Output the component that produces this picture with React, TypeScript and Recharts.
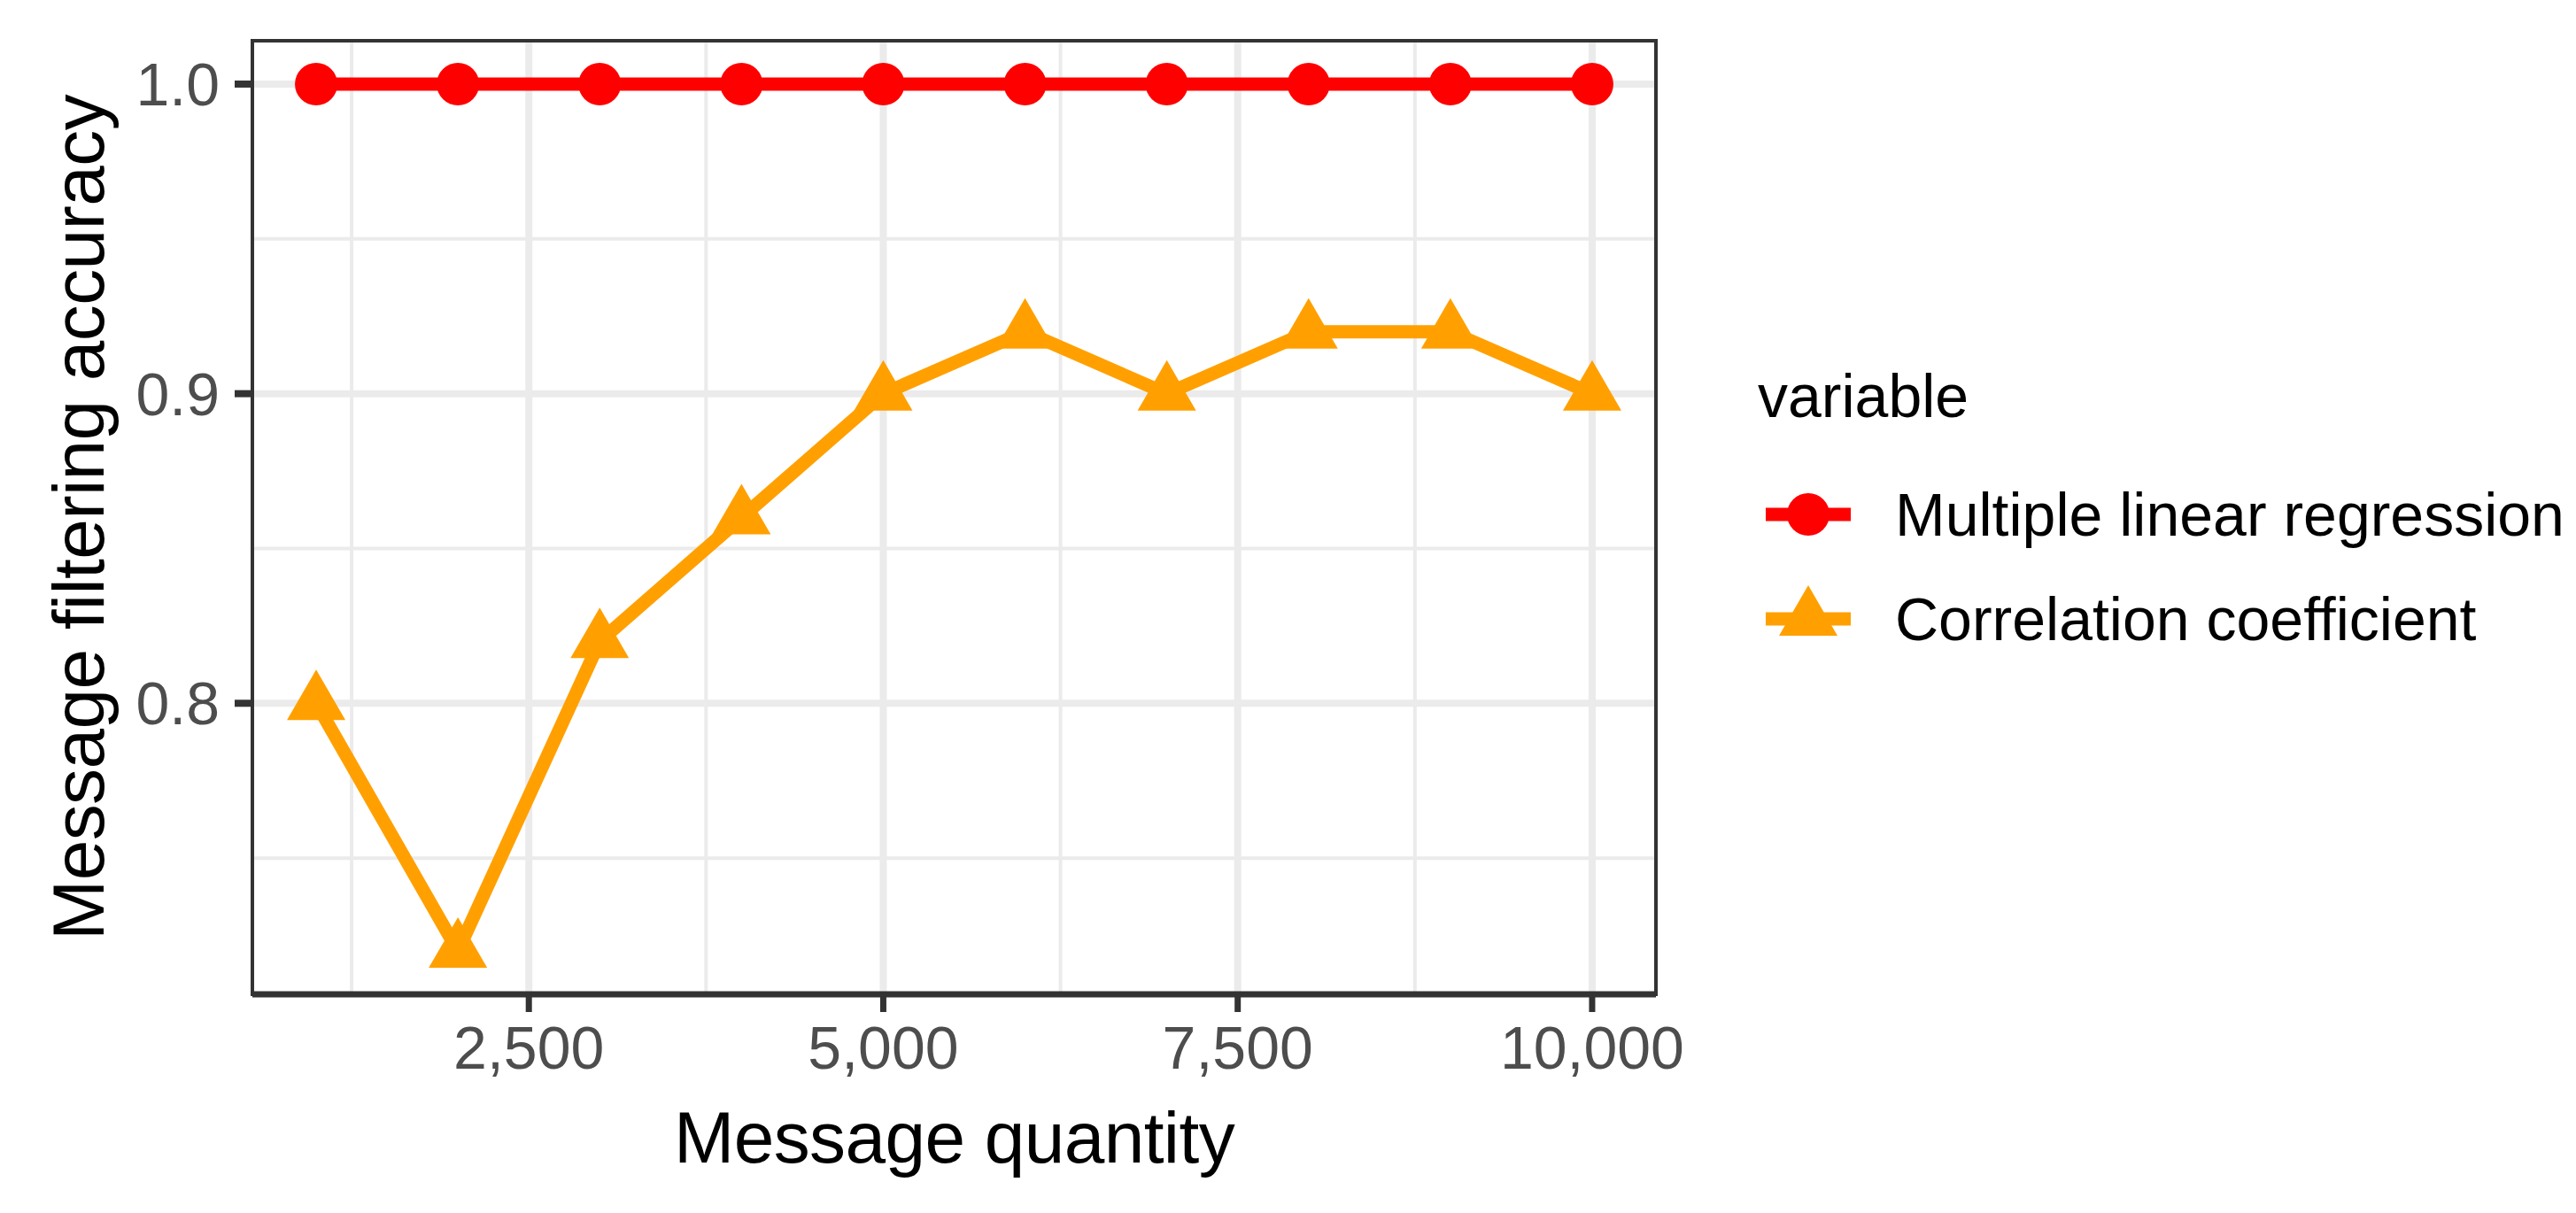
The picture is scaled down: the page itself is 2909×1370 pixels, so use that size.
import React from 'react';
import {
  LineChart,
  Line,
  XAxis,
  YAxis,
  CartesianGrid,
  ReferenceArea,
  Legend,
} from 'recharts';

// message quantity on the x axis
const quantities = [1000, 2000, 3000, 4000, 5000, 6000, 7000, 8000, 9000, 10000];
// filtering accuracy per method
const regressionAcc = [1.0, 1.0, 1.0, 1.0, 1.0, 1.0, 1.0, 1.0, 1.0, 1.0];
const correlationAcc = [0.8, 0.72, 0.82, 0.86, 0.9, 0.92, 0.9, 0.92, 0.92, 0.9];

const seriesNames = ['Multiple linear regression', 'Correlation coefficient'];
const seriesColors = ['#FF0000', '#FFA000'];

const xTicks = [2500, 5000, 7500, 10000];
const xMinor = [1250, 3750, 6250, 8750];
const yTicks = [0.8, 0.9, 1.0];
const yMinor = [0.75, 0.85, 0.95];

const xDomain = [550, 10450];
const yDomain = [0.706, 1.014];

const data = quantities.map((q, i) => ({
  q,
  mlr: regressionAcc[i],
  cc: correlationAcc[i],
}));

const FONT = '"Liberation Sans", Arial, Helvetica, sans-serif';
const W = 2909;
const H = 1370;

const CircleDot = (props: any) => {
  const { cx, cy, index } = props;
  if (cx == null || cy == null) return <g key={index} />;
  return <circle key={index} cx={cx} cy={cy} r={24} fill={seriesColors[0]} />;
};

const triPath = (cx: number, cy: number) =>
  `M${cx},${cy - 38} L${cx + 33},${cy + 19} L${cx - 33},${cy + 19} Z`;

const TriangleDot = (props: any) => {
  const { cx, cy, index } = props;
  if (cx == null || cy == null) return <g key={index} />;
  return <path key={index} d={triPath(cx, cy)} fill={seriesColors[1]} />;
};

const LegendBox = () => (
  <svg width={940} height={360} style={{ fontFamily: FONT, overflow: 'visible' }}>
    <text x={25} y={71} fontSize={68} fill="#000">
      variable
    </text>
    {seriesNames.map((name, i) => {
      const cy = 181 + i * 118;
      return (
        <g key={name}>
          <line x1={34} x2={130} y1={cy} y2={cy} stroke={seriesColors[i]} strokeWidth={15} />
          {i === 0 ? (
            <circle cx={82} cy={cy} r={24} fill={seriesColors[0]} />
          ) : (
            <path d={triPath(82, cy)} fill={seriesColors[1]} />
          )}
          <text x={180} y={cy + 24} fontSize={68} fill="#000">
            {name}
          </text>
        </g>
      );
    })}
  </svg>
);

export default function App() {
  return (
    <div style={{ position: 'absolute', left: 0, top: 0, width: W, height: H, background: '#fff', fontFamily: FONT }}>
      <LineChart
        width={W}
        height={H}
        data={data}
        margin={{ top: 46, right: 1039, bottom: 147, left: 0 }}
        style={{ fontFamily: FONT }}
      >
        <CartesianGrid
          stroke="#EBEBEB"
          strokeWidth={4}
          horizontalValues={yMinor}
          verticalValues={xMinor}
          fill="#fff"
        />
        <CartesianGrid
          stroke="#EBEBEB"
          strokeWidth={8}
          horizontalValues={yTicks}
          verticalValues={xTicks}
        />
        <XAxis
          dataKey="q"
          type="number"
          domain={xDomain}
          ticks={xTicks}
          allowDataOverflow
          height={100}
          tickSize={20}
          tickMargin={16}
          tickFormatter={(v: number) => v.toLocaleString('en-US')}
          tick={{ fontSize: 68, fill: '#4D4D4D', fontFamily: FONT }}
          tickLine={{ stroke: '#333333', strokeWidth: 7 }}
          axisLine={{ stroke: '#333333', strokeWidth: 7 }}
          label={{
            content: (p: any) => {
              const vb = p.viewBox || {};
              return (
                <text
                  x={vb.x + vb.width / 2}
                  y={vb.y + 190}
                  textAnchor="middle"
                  fontSize={82}
                  letterSpacing={-0.6}
                  fill="#000"
                  fontFamily={FONT}
                >
                  Message quantity
                </text>
              );
            },
          }}
        />
        <YAxis
          type="number"
          domain={yDomain}
          ticks={yTicks}
          allowDataOverflow
          width={285}
          tickSize={20}
          tickMargin={17}
          tickFormatter={(v: number) => v.toFixed(1)}
          tick={{ fontSize: 68, fill: '#4D4D4D', fontFamily: FONT }}
          tickLine={{ stroke: '#333333', strokeWidth: 8 }}
          axisLine={{ stroke: '#333333', strokeWidth: 4 }}
          label={{
            content: (p: any) => {
              const vb = p.viewBox || {};
              const cx = 117;
              const cy = vb.y + vb.height / 2;
              return (
                <text
                  x={cx}
                  y={cy}
                  transform={`rotate(-90, ${cx}, ${cy})`}
                  textAnchor="middle"
                  fontSize={82}
                  letterSpacing={-0.6}
                  fill="#000"
                  fontFamily={FONT}
                >
                  Message filtering accuracy
                </text>
              );
            },
          }}
        />
        <ReferenceArea
          x1={xDomain[0]}
          x2={xDomain[1]}
          y1={yDomain[0]}
          y2={yDomain[1]}
          fill="none"
          fillOpacity={0}
          stroke="#333333"
          strokeWidth={4}
        />
        <Line
          dataKey="mlr"
          name={seriesNames[0]}
          stroke={seriesColors[0]}
          strokeWidth={15}
          dot={CircleDot}
          activeDot={false}
          isAnimationActive={false}
        />
        <Line
          dataKey="cc"
          name={seriesNames[1]}
          stroke={seriesColors[1]}
          strokeWidth={15}
          dot={TriangleDot}
          activeDot={false}
          isAnimationActive={false}
        />
        <Legend
          layout="horizontal"
          verticalAlign="middle"
          align="center"
          wrapperStyle={{ left: 1960, top: 400, width: 940, height: 360 }}
          content={() => <LegendBox />}
        />
      </LineChart>
    </div>
  );
}
